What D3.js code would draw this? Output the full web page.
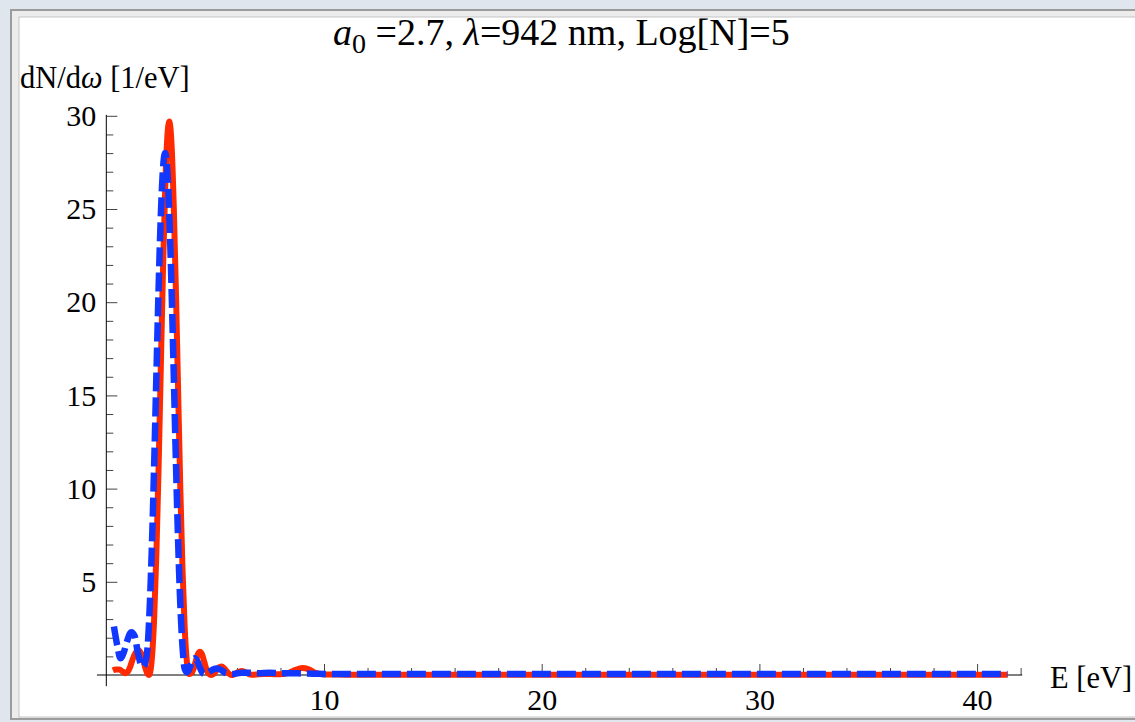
<!DOCTYPE html>
<html>
<head>
<meta charset="utf-8">
<script src="https://cdn.jsdelivr.net/npm/d3@7"></script>
<style>
  body { margin: 0; background: #dfe6ee; }
  svg { display: block; }
  text { font-family: "Liberation Serif", "Times New Roman", serif; fill: #000; }
</style>
</head>
<body>
<div id="chart"></div>
<script>
// photon spectrum
var redE = [0.3,0.45,0.6,0.75,0.9,1.0,1.1,1.2,1.3,1.4,1.5,1.6,1.7,1.8,1.9,1.97,2.05,2.1,2.2,2.3,2.4,2.5,2.6,2.7,2.8,2.89,3.0,3.1,3.2,3.3,3.4,3.5,3.6,3.7,3.8,3.9,4.0,4.1,4.2,4.3,4.4,4.5,4.6,4.7,4.8,4.9,5.0,5.1,5.2,5.3,5.4,5.5,5.6,5.7,5.8,6.0,6.2,6.4,6.6,6.8,7.2,7.6,8.0,8.4,8.7,9.0,9.3,9.6,10.0,11,12,14,17,20,24,28,32,36,41.4];
var redN = [0.25,0.3,0.3,0.18,0.1,0.2,0.45,0.8,1.1,1.28,1.32,1.15,0.8,0.35,0.05,0.0,0.4,0.98,3.08,6.48,11.0,16.3,21.5,25.9,28.8,29.7,28.4,25.1,20.5,15.2,10.0,5.7,2.55,0.72,0.05,0.1,0.3,0.7,1.1,1.25,1.1,0.7,0.3,0.07,0.0,0.03,0.15,0.32,0.43,0.45,0.38,0.24,0.1,0.02,0.0,0.12,0.22,0.15,0.03,0.02,0.06,0.05,0.04,0.12,0.28,0.37,0.3,0.12,0.03,0.02,0.02,0.02,0.02,0.02,0.02,0.02,0.02,0.02,0.02];

var blueE = [0.35,0.5,0.65,0.8,0.95,1.15,1.3,1.45,1.6,1.7,1.8,1.9,2.0,2.1,2.2,2.3,2.4,2.5,2.6,2.7,2.8,2.9,3.0,3.1,3.2,3.3,3.4,3.5,3.6,3.7,3.8,3.9,4.0,4.07,4.2,4.3,4.4,4.5,4.7,4.9,5.1,5.3,5.5,5.8,6.2,6.6,7.0,7.5,8.0,8.5,9.0,9.5,10,11,12,14,17,20,24,28,32,36,41.4];
var blueN = [2.6,1.6,0.9,1.2,1.8,2.3,2.1,1.2,0.55,0.45,0.7,1.53,3.79,7.13,11.35,16.04,20.63,24.5,27.09,28.0,27.09,24.5,20.63,16.04,11.35,7.13,3.79,1.53,0.33,0.15,0.3,0.6,0.85,0.9,0.7,0.4,0.15,0.05,0.15,0.3,0.35,0.25,0.1,0.05,0.12,0.12,0.1,0.12,0.1,0.1,0.08,0.07,0.06,0.05,0.05,0.05,0.05,0.05,0.05,0.05,0.05,0.05,0.05];

var xTicks = [10, 20, 30, 40];
var xMinor = [2,4,6,8,12,14,16,18,22,24,26,28,32,34,36,38,42];
var yTicks = [5, 10, 15, 20, 25, 30];
var yMinor = [1,2,3,4,6,7,8,9,11,12,13,14,16,17,18,19,21,22,23,24,26,27,28,29];

var width = 1135;
var height = 722;

var svg = d3.select("#chart")
    .append("svg")
    .attr("width", width)
    .attr("height", height);

// mathematica style panel
svg.append("rect")
    .attr("x", 11).attr("y", 10)
    .attr("width", width).attr("height", 709)
    .attr("fill", "#ececec")
    .attr("stroke", "#9c9c9c")
    .attr("stroke-width", 2);
svg.append("rect")
    .attr("x", 19).attr("y", 17)
    .attr("width", width).attr("height", 700)
    .attr("fill", "#fff")
    .attr("stroke", "#c4c4c4")
    .attr("stroke-width", 1);

var xScale = d3.scaleLinear()
    .domain([0, 42])
    .range([106.3, 106.3 + 42 * 21.77]);

var yScale = d3.scaleLinear()
    .domain([0, 30])
    .range([675, 675 - 30 * 18.64]);

// axes
var xAxis = svg.append("g")
    .attr("transform", `translate(0,${yScale(0)})`)
    .call(d3.axisBottom(xScale).tickValues(xTicks).tickSizeInner(-11).tickSizeOuter(0).tickPadding(14));
var xAxisMinor = svg.append("g")
    .attr("transform", `translate(0,${yScale(0)})`)
    .call(d3.axisBottom(xScale).tickValues(xMinor).tickSizeInner(-7).tickSizeOuter(0).tickFormat(""));

var yAxis = svg.append("g")
    .attr("transform", `translate(${xScale(0)},0)`)
    .call(d3.axisLeft(yScale).tickValues(yTicks).tickSizeInner(-11).tickSizeOuter(0).tickPadding(10));
var yAxisMinor = svg.append("g")
    .attr("transform", `translate(${xScale(0)},0)`)
    .call(d3.axisLeft(yScale).tickValues(yMinor).tickSizeInner(-7).tickSizeOuter(0).tickFormat(""));

svg.selectAll(".domain").remove();
svg.selectAll(".tick line").attr("stroke", "#444").attr("stroke-width", 1);
svg.selectAll(".tick text")
    .style("font-family", "Liberation Serif")
    .style("font-size", "30px")
    .attr("fill", "#000");

svg.append("line")
    .attr("x1", xScale(-0.43)).attr("x2", xScale(42.07))
    .attr("y1", yScale(0)).attr("y2", yScale(0))
    .attr("stroke", "#000").attr("stroke-width", 1);
svg.append("line")
    .attr("x1", xScale(0)).attr("x2", xScale(0))
    .attr("y1", yScale(-0.6)).attr("y2", yScale(30.05))
    .attr("stroke", "#000").attr("stroke-width", 1);

var line = d3.line()
    .x(function(d) { return xScale(d[0]); })
    .y(function(d) { return yScale(d[1]); })
    .curve(d3.curveMonotoneX);

var red = svg.append("path")
    .datum(d3.zip(redE, redN))
    .attr("d", line)
    .attr("fill", "none")
    .attr("stroke", "#ff2a00")
    .attr("stroke-width", 6)
    .attr("stroke-linejoin", "round");

var blue = svg.append("path")
    .datum(d3.zip(blueE, blueN))
    .attr("d", line)
    .attr("fill", "none")
    .attr("stroke", "#1238ff")
    .attr("stroke-width", 6.5)
    .attr("stroke-dasharray", "19,6");

// labels
var title = svg.append("text")
    .attr("x", 333)
    .attr("y", 45)
    .style("font-size", "38px");
title.append("tspan").style("font-style", "italic").text("a");
title.append("tspan").attr("dy", 8).style("font-size", "28px").text("0");
title.append("tspan").attr("dy", -8).text(" =2.7, ");
title.append("tspan").style("font-style", "italic").text("λ");
title.append("tspan").text("=942 nm, Log[N]=5");

var yLabel = svg.append("text")
    .attr("x", 20)
    .attr("y", 88)
    .style("font-size", "30.5px");
yLabel.append("tspan").text("dN/d");
yLabel.append("tspan").style("font-style", "italic").text("ω");
yLabel.append("tspan").text(" [1/eV]");

svg.append("text")
    .attr("x", 1050)
    .attr("y", 688)
    .style("font-size", "30.5px")
    .text("E [eV]");
</script>
</body>
</html>
